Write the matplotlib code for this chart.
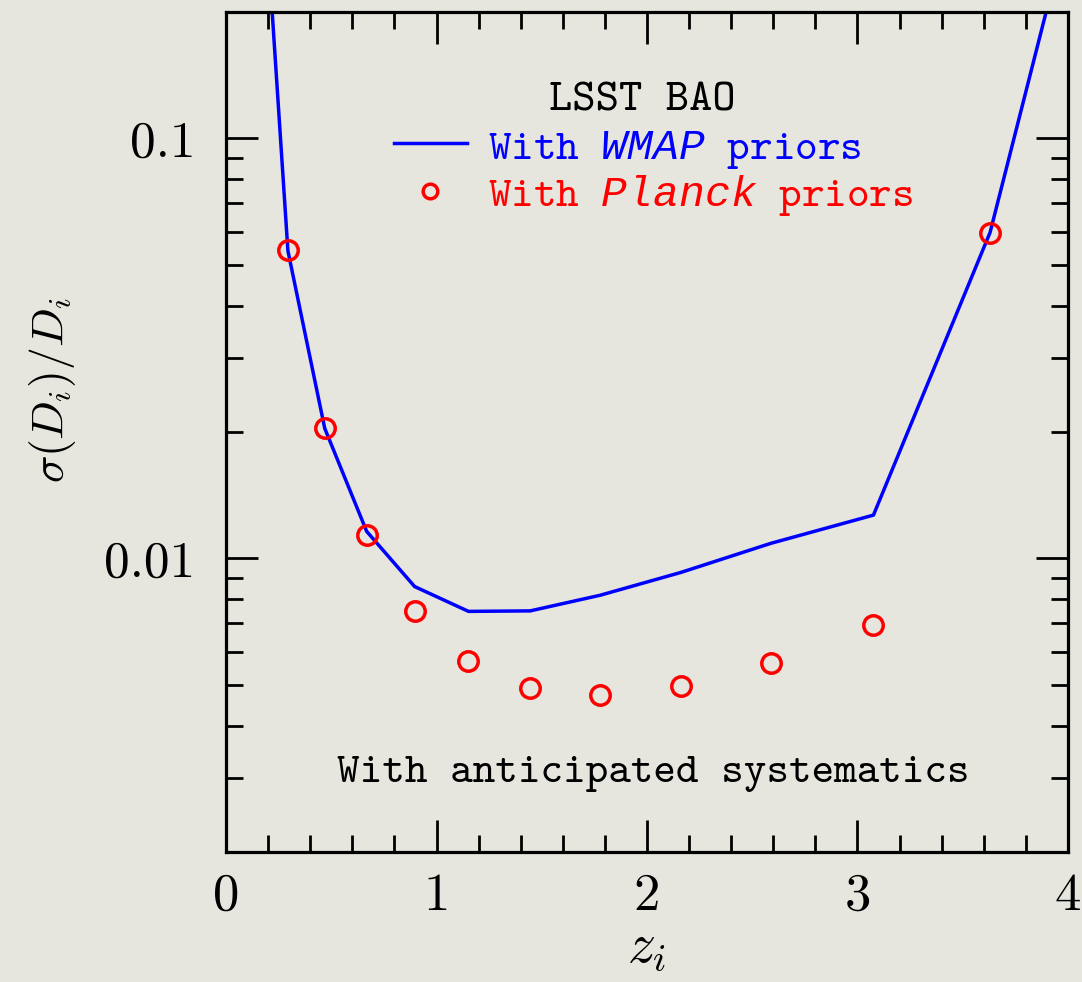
import numpy as np
import matplotlib.pyplot as plt
from matplotlib.ticker import MultipleLocator, LogLocator, NullFormatter

plt.rcParams['mathtext.fontset'] = 'cm'
plt.rcParams['mathtext.it'] = 'Liberation Mono:italic'

# LSST BAO forecast, sigma(D_i)/D_i vs redshift bin z_i
z_wmap = [0.20, 0.294, 0.469, 0.668, 0.896, 1.152, 1.445, 1.777, 2.161, 2.588, 3.076, 3.630, 4.00]
err_wmap = [0.28, 0.054, 0.0204, 0.0116, 0.00857, 0.00748, 0.0075, 0.00817, 0.00926, 0.01086, 0.01268, 0.0597, 0.32]

z_planck = [0.294, 0.469, 0.668, 0.896, 1.152, 1.445, 1.777, 2.161, 2.588, 3.076, 3.630]
err_planck = [0.0543, 0.0204, 0.01135, 0.00751, 0.00571, 0.00492, 0.00473, 0.00496, 0.00565, 0.00695, 0.0597]

yticks = [0.01, 0.1]
yticklabels = ['0.01', '0.1']
xticks = [0, 1, 2, 3, 4]
xticklabels = ['0', '1', '2', '3', '4']

bg = '#e6e6de'
tt = 'cmtt10'

fig = plt.figure(figsize=(10.82, 9.82), dpi=100, facecolor=bg)
ax = fig.add_axes([0.2089, 0.1324, 0.7781, 0.8554])
ax.set_facecolor(bg)

ax.plot(z_wmap, err_wmap, color='blue', lw=2.5,
        label='With $\\mathit{WMAP}$ priors')
ax.plot(z_planck, err_planck, 'o', mfc='none', mec='red', ms=14, mew=2.5,
        label='With $\\mathit{Planck}$ priors')

ax.set_yscale('log')
ax.set_xlim(0, 4)
ax.set_ylim(0.002, 0.2)

ax.set_xticks(xticks, xticklabels, fontfamily='cmr10', fontsize=38)
ax.set_yticks(yticks, yticklabels, fontfamily='cmr10', fontsize=37)
ax.xaxis.set_minor_locator(MultipleLocator(0.2))
ax.yaxis.set_minor_locator(LogLocator(base=10, subs=np.arange(2, 10)))
ax.yaxis.set_minor_formatter(NullFormatter())

ax.tick_params(which='both', direction='in', top=True, right=True, width=2)
ax.tick_params(which='major', length=23)
ax.tick_params(which='minor', length=12)
ax.tick_params(axis='x', which='major', pad=15)
ax.tick_params(axis='y', which='major', pad=22)
for s in ax.spines.values():
    s.set_linewidth(2.3)

ax.set_xlabel('$z_i$', fontsize=40, labelpad=0)
ax.set_ylabel('$\\sigma(D_i)/D_i$', fontsize=33)
ax.yaxis.set_label_coords(-0.176, 0.55)

ax.text(0.494, 0.883, 'LSST BAO', transform=ax.transAxes,
        ha='center', va='baseline', fontfamily=tt, fontsize=32)

leg = ax.legend(loc='upper center', bbox_to_anchor=(0.508, 0.887), frameon=False,
                prop={'family': tt, 'size': 31, 'math_fontfamily': 'custom'},
                handlelength=1.7, handletextpad=0.5, labelspacing=0.05,
                borderpad=0, markerscale=0.75, labelcolor=['blue', 'red'])

ax.text(0.507, 0.0833, 'With anticipated systematics', transform=ax.transAxes,
        ha='center', va='baseline', fontfamily=tt, fontsize=31)

fig.savefig('out.png', dpi=100, facecolor=bg)
